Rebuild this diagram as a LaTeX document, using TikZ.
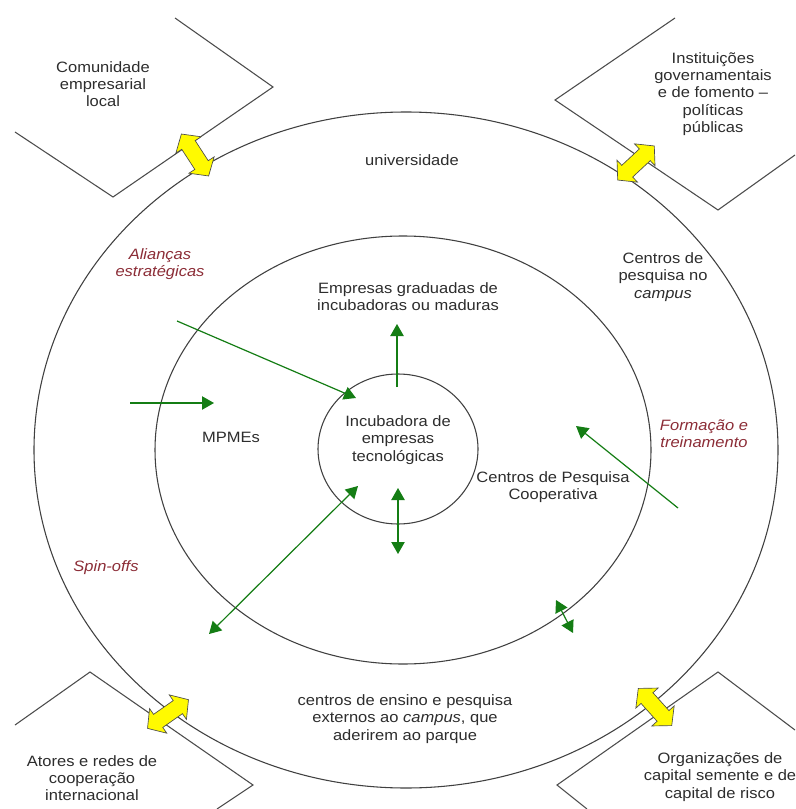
\documentclass[tikz,border=0pt]{standalone}
\usepackage{fontspec}
\setmainfont[FakeStretch=1.1]{Liberation Sans}
\usetikzlibrary{arrows.meta,shapes.geometric}
\definecolor{txt}{RGB}{45,45,45}
\definecolor{ital}{RGB}{140,45,55}
\definecolor{grn}{RGB}{20,125,20}
\definecolor{yel}{RGB}{255,250,0}
\tikzset{
  lbl/.style={align=center, text=txt, font=\fontsize{11.25}{12.9}\selectfont, inner sep=0pt},
  accent/.style={align=center, text=ital, font=\fontsize{11.25}{12.9}\selectfont\itshape, inner sep=0pt},
  ring/.style={draw=black!75, line width=0.8pt, ellipse, inner sep=0pt, outer sep=0pt},
  frame/.style={draw=black!70, line width=0.8pt},
  garrow/.style={draw=grn, line width=0.9pt, -{Triangle[length=9pt,width=10pt]}},
  gdarrow/.style={draw=grn, line width=0.9pt, {Triangle[length=9pt,width=10pt]}-{Triangle[length=9pt,width=10pt]}},
  yarrow/.pic={\filldraw[fill=yel, draw=black!70, line width=0.5pt]
    (-25,0) -- (-12,-15) -- (-12,-8) -- (12,-8) -- (12,-15) -- (25,0)
    -- (12,15) -- (12,8) -- (-12,8) -- (-12,15) -- cycle;}
}
\begin{document}
\begin{tikzpicture}[x=0.75pt,y=-0.75pt]
\useasboundingbox (0,0) rectangle (795,809);
\fill[white] (0,0) rectangle (795,809);

% rings
\node[ring, minimum width=558pt, minimum height=507pt] (outer) at (406,450) {};
\node[ring, minimum width=372pt, minimum height=321pt] (middle) at (403,450) {};
\node[ring, minimum width=120pt, minimum height=112.5pt] (inner) at (398,449) {};

% corner frames
\draw[frame] (15,132) -- (113,197) -- (273,87) -- (175,18);
\draw[frame] (675,18) -- (555,100) -- (718,210) -- (795,155);
\draw[frame] (15,725) -- (90,672) -- (253,785) -- (217,809);
\draw[frame] (587,809) -- (557,785) -- (718,672) -- (795,730);

% yellow double arrows
\pic[rotate=-57] (y1) at (195,155) {yarrow};
\pic[rotate=43] (y2) at (636,163) {yarrow};
\pic[rotate=35] (y3) at (168,714) {yarrow};
\pic[rotate=-48] (y4) at (655,707) {yarrow};

% texts
\node[lbl] (comunidade) at (103,84) {Comunidade\\empresarial\\local};
\node[lbl] (instit) at (713,94) {Instituições\\governamentais\\e de fomento –\\políticas\\públicas};
\node[lbl] (univ) at (412,160) {universidade};
\node[accent] (aliancas) at (160,264) {Alianças\\estratégicas};
\node[lbl] (cpcampus) at (663,277) {Centros de\\pesquisa no\\\textit{campus}};
\node[lbl] (graduadas) at (408,297) {Empresas graduadas de\\incubadoras ou maduras};
\node[lbl] (mpmes) at (231,437) {MPMEs};
\node[lbl] (incub) at (398,440) {Incubadora de\\empresas\\tecnológicas};
\node[accent] (formacao) at (704,434) {Formação e\\treinamento};
\node[lbl] (cpcoop) at (553,487) {Centros de Pesquisa\\Cooperativa};
\node[accent] (spinoffs) at (106,568) {Spin-offs};
\node[lbl] (externos) at (405,719) {centros de ensino e pesquisa\\externos ao \textit{campus}, que\\aderirem ao parque};
\node[lbl] (atores) at (92,778) {Atores e redes de\\cooperação\\internacional};
\node[lbl] (organiz) at (720,777) {Organizações de\\capital semente e de\\capital de risco};

% green arrows
\coordinate (m1) at (130,403);
\coordinate (m2) at (214,403);
\draw[garrow] (m1) -- (m2);
\coordinate (al1) at (177,321);
\coordinate (al2) at (356,398);
\draw[garrow] (al1) -- (al2);
\coordinate (up1) at (397,387);
\coordinate (up2) at (397,324);
\draw[garrow] (up1) -- (up2);
\coordinate (sp1) at (358,486);
\coordinate (sp2) at (209,634);
\draw[gdarrow] (sp1) -- (sp2);
\coordinate (dn1) at (398,488);
\coordinate (dn2) at (398,554);
\draw[gdarrow] (dn1) -- (dn2);
\coordinate (fo1) at (678,508);
\coordinate (fo2) at (576,426);
\draw[garrow] (fo1) -- (fo2);
\coordinate (ce1) at (556,600);
\coordinate (ce2) at (573,633);
\draw[gdarrow] (ce1) -- (ce2);
\end{tikzpicture}
\end{document}
